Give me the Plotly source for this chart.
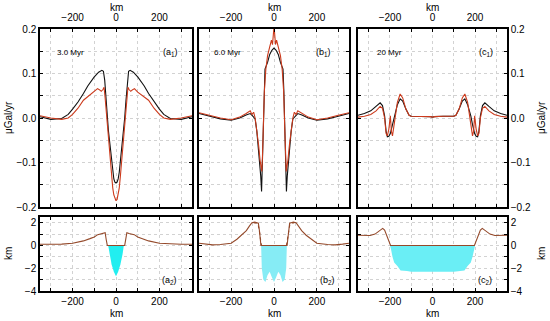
import plotly.graph_objects as go

# ---------------- data ----------------
# (a1) 3.0 Myr
xa1 = [-350, -300, -250, -220, -200, -175, -150, -130, -101, -80, -65, -58, -52, -46, -40, -35, -30, -25, -20, -15, -10, -5, 0,
       5, 10, 15, 20, 25, 30, 35, 40, 46, 52, 58, 65, 80, 101, 130, 150, 175, 200, 220, 250, 300, 350]
a1_black = [0.003, -0.003, -0.001, 0.008, 0.02, 0.036, 0.055, 0.072, 0.092, 0.103, 0.107, 0.105, 0.085, 0.04, 0.0, -0.028, -0.05, -0.075, -0.1, -0.122, -0.137, -0.144, -0.146,
            -0.144, -0.137, -0.122, -0.1, -0.075, -0.05, -0.028, 0.0, 0.04, 0.085, 0.105, 0.107, 0.103, 0.092, 0.072, 0.055, 0.036, 0.02, 0.008, -0.001, -0.003, 0.003]
xa1r = [-350, -300, -250, -220, -200, -175, -150, -125, -100, -85, -75, -68, -60, -55, -50, -45, -40, -35, -30, -25, -20, -15, -10, -5, 0,
        5, 10, 15, 20, 25, 30, 35, 40, 45, 50, 55, 60, 68, 75, 85, 100, 125, 150, 175, 200, 220, 250, 300, 350]
a1_red = [0.005, 0.0, -0.003, 0.0, 0.008, 0.022, 0.04, 0.05, 0.058, 0.066, 0.063, 0.06, 0.064, 0.069, 0.045, 0.015, -0.015, -0.045, -0.075, -0.105, -0.132, -0.157, -0.173, -0.183, -0.186,
          -0.183, -0.173, -0.157, -0.132, -0.105, -0.075, -0.045, -0.015, 0.015, 0.045, 0.069, 0.064, 0.06, 0.063, 0.066, 0.058, 0.05, 0.04, 0.022, 0.008, 0.0, -0.003, 0.0, 0.005]

# (b1) 6.0 Myr
xb1 = [-350, -300, -250, -200, -160, -130, -111, -100, -88, -80, -70, -62, -58, -54, -50, -46, -42, -30, -20, -10, 0,
       10, 20, 30, 42, 46, 50, 54, 58, 62, 70, 80, 88, 100, 111, 130, 160, 200, 250, 300, 350]
b1_black = [0.01, 0.004, -0.002, -0.005, 0.0, 0.007, 0.01, 0.005, -0.002, -0.03, -0.08, -0.13, -0.165, -0.1, -0.02, 0.06, 0.11, 0.125, 0.143, 0.152, 0.157,
            0.152, 0.143, 0.125, 0.11, 0.06, -0.02, -0.1, -0.165, -0.13, -0.08, -0.03, -0.002, 0.005, 0.01, 0.007, 0.0, -0.005, -0.002, 0.004, 0.01]
xb1r = [-350, -300, -250, -200, -160, -130, -111, -103, -95, -88, -80, -72, -65, -60, -57, -54, -50, -45, -38, -30, -20, -12, -7, -3, 0,
        3, 7, 12, 20, 30, 38, 45, 50, 54, 57, 60, 65, 72, 80, 88, 95, 103, 111, 130, 160, 200, 250, 300, 350]
b1_red = [0.012, 0.006, 0.0, -0.004, 0.002, 0.01, 0.016, 0.008, 0.013, 0.0, -0.025, -0.06, -0.095, -0.11, -0.12, -0.09, -0.02, 0.06, 0.11, 0.14, 0.16, 0.175, 0.165, 0.19, 0.205,
          0.19, 0.165, 0.175, 0.16, 0.14, 0.11, 0.06, -0.02, -0.09, -0.12, -0.11, -0.095, -0.06, -0.025, 0.0, 0.013, 0.008, 0.016, 0.01, 0.002, -0.004, 0.0, 0.006, 0.012]

# (c1) 20 Myr
xc1 = [-350, -320, -290, -265, -246, -235, -225, -218, -212, -205, -198, -193, -188, -180, -165, -152, -140, -125, -110, -100, -50, -10, 0,
       10, 50, 100, 110, 125, 140, 152, 165, 180, 188, 193, 198, 205, 212, 218, 225, 235, 246, 265, 290, 320, 350]
c1_black = [0.006, 0.01, 0.016, 0.026, 0.034, 0.028, 0.005, -0.03, -0.042, -0.041, -0.035, -0.025, -0.015, 0.005, 0.03, 0.043, 0.038, 0.02, 0.006, 0.004, 0.004, 0.003, 0.002,
            0.003, 0.004, 0.004, 0.006, 0.02, 0.038, 0.043, 0.03, 0.005, -0.015, -0.025, -0.035, -0.041, -0.042, -0.03, 0.005, 0.028, 0.034, 0.026, 0.016, 0.01, 0.006]
c1_red = [0.002, 0.004, 0.008, 0.016, 0.026, 0.022, 0.0, -0.035, -0.04, -0.025, 0.005, -0.03, -0.04, -0.01, 0.035, 0.054, 0.045, 0.02, 0.006, 0.004, 0.004, 0.003, 0.002,
          0.003, 0.004, 0.004, 0.006, 0.02, 0.045, 0.054, 0.035, -0.01, -0.04, -0.03, 0.005, -0.025, -0.04, -0.035, 0.0, 0.022, 0.026, 0.016, 0.008, 0.004, 0.002]

# (a2) topography and basin fill
xa2 = [-350, -300, -250, -200, -150, -120, -100, -84, -70, -60, -50, -45, -40, 40, 45, 50, 60, 70, 84, 100, 120, 150, 200, 250, 300, 350]
a2_topo = [0.1, 0.1, 0.12, 0.2, 0.4, 0.6, 0.75, 0.95, 1.0, 1.05, 1.12, 0.5, 0.0, 0.0, 0.5, 1.12, 1.05, 1.0, 0.95, 0.75, 0.6, 0.4, 0.2, 0.12, 0.1, 0.1]
xa2_fill = [-36, -30, -20, -10, 0, 10, 20, 30, 36, -36]
a2_fill = [0.0, -0.8, -1.7, -2.3, -2.7, -2.3, -1.7, -0.8, 0.0, 0.0]

# (b2)
xb2 = [-350, -320, -286, -250, -200, -173, -150, -129, -115, -103, -90, -80, -73, -68, -64, -61, 61, 64, 68, 73, 80, 90, 103, 115, 129, 150, 173, 200, 250, 286, 320, 350]
b2_topo = [0.2, 0.12, 0.05, 0.08, 0.2, 0.55, 0.9, 1.3, 1.7, 2.0, 2.05, 2.0, 1.95, 1.3, 0.5, 0.0, 0.0, 0.5, 1.3, 1.95, 2.0, 2.05, 2.0, 1.7, 1.3, 0.9, 0.55, 0.2, 0.08, 0.05, 0.12, 0.2]
xb2_dash_l = [-95, -82, -74, -70, -66, -62, -58]
b2_dash_l = [2.0, 1.95, 1.85, 1.5, 1.0, 0.4, 0.0]
xb2_dash_r = [58, 62, 66, 70, 74, 82, 95]
b2_dash_r = [0.0, 0.4, 1.0, 1.5, 1.85, 1.95, 2.0]
xb2_fill = [-60, -57, -50, -40, -30, -20, -10, 0, 10, 20, 30, 40, 50, 57, 60, -60]
b2_fill = [0.0, -2.0, -3.0, -3.2, -2.6, -2.3, -2.8, -3.2, -2.8, -2.3, -2.6, -3.2, -3.0, -2.0, 0.0, 0.0]

# (c2)
xc2 = [-350, -320, -293, -270, -250, -234, -225, -215, -205, -197, 197, 205, 215, 225, 234, 250, 270, 293, 320, 350]
c2_topo = [0.9, 0.87, 0.87, 1.0, 1.3, 1.5, 1.35, 0.9, 0.4, 0.0, 0.0, 0.4, 0.9, 1.35, 1.5, 1.3, 1.0, 0.87, 0.87, 0.9]
xc2_fill = [-200, -195, -188, -180, -165, -150, -120, -100, 100, 120, 150, 165, 180, 188, 195, 200, -200]
c2_fill = [0.0, -0.3, -1.0, -1.5, -1.8, -2.2, -2.25, -2.3, -2.3, -2.25, -2.2, -1.8, -1.5, -1.0, -0.3, 0.0, 0.0]

ages = ["3.0 Myr", "6.0 Myr", "20 Myr"]
top_tags = ["(a<sub>1</sub>)", "(b<sub>1</sub>)", "(c<sub>1</sub>)"]
bot_tags = ["(a<sub>2</sub>)", "(b<sub>2</sub>)", "(c<sub>2</sub>)"]

x_tickvals = [-300, -200, -100, 0, 100, 200, 300]
x_ticktext = ["", "\u2212200", "", "0", "", "200", ""]
yt_tickvals = [-0.2, -0.15, -0.1, -0.05, 0.0, 0.05, 0.1, 0.15, 0.2]
yt_ticktext = ["\u22120.2", "", "\u22120.1", "", "0.0", "", "0.1", "", "0.2"]
yb_tickvals = [-4, -3, -2, -1, 0, 1, 2]
yb_ticktext = ["\u22124", "", "\u22122", "", "0", "", "2"]

# ---------------- styling ----------------
W, H = 550, 321
BLACK = "#111111"
RED = "#cc3a1c"
BROWN = "#94492a"
FONT = "Liberation Sans, Arial, sans-serif"

px_cols = [(40, 192), (199, 349), (358, 507)]
top_rows = (29, 207)
bot_rows = (217, 291)


def xdom(c):
    return [c[0] / W, c[1] / W]


def ydom(r):
    return [1 - r[1] / H, 1 - r[0] / H]


fig = go.Figure()


def add(x, y, ax, **kw):
    fig.add_trace(go.Scatter(x=x, y=y, xaxis="x" + ("" if ax == 1 else str(ax)),
                             yaxis="y" + ("" if ax == 1 else str(ax)), mode="lines",
                             showlegend=False, hoverinfo="skip", **kw))


# top panels: axes 1,2,3 ; bottom panels: axes 4,5,6
add(xa1, a1_black, 1, line=dict(color=BLACK, width=1.1))
add(xa1r, a1_red, 1, line=dict(color=RED, width=1.1))
add(xb1, b1_black, 2, line=dict(color=BLACK, width=1.1))
add(xb1r, b1_red, 2, line=dict(color=RED, width=1.1))
add(xc1, c1_black, 3, line=dict(color=BLACK, width=1.1))
add(xc1, c1_red, 3, line=dict(color=RED, width=1.1))

add(xa2_fill, a2_fill, 4, fill="toself", fillcolor="#22eef0", line=dict(width=0))
add(xa2, a2_topo, 4, line=dict(color=BROWN, width=1.1))
add(xb2_fill, b2_fill, 5, fill="toself", fillcolor="#86ecf5", line=dict(width=0))
add(xb2, b2_topo, 5, line=dict(color=BROWN, width=1.1))
add(xb2_dash_l, b2_dash_l, 5, line=dict(color=BROWN, width=1.1, dash="dot"))
add(xb2_dash_r, b2_dash_r, 5, line=dict(color=BROWN, width=1.1, dash="dot"))
add(xc2_fill, c2_fill, 6, fill="toself", fillcolor="#6aeef5", line=dict(width=0))
add(xc2, c2_topo, 6, line=dict(color=BROWN, width=1.1))

common_axis = dict(showline=True, linecolor="black", linewidth=1.5, mirror="ticks",
                   ticks="inside", ticklen=3, tickwidth=1, tickcolor="black",
                   showgrid=True, gridcolor="#d2d2d2", gridwidth=1, griddash="dot",
                   zeroline=False, automargin=False,
                   tickfont=dict(family=FONT, size=10, color="black"))

layout = dict(width=W, height=H, margin=dict(l=0, r=0, t=0, b=0, autoexpand=False),
              paper_bgcolor="white", plot_bgcolor="white",
              font=dict(family=FONT, size=10, color="black"))

for i in range(3):
    t = i + 1
    b = i + 4
    tk = "" if t == 1 else str(t)
    layout["xaxis" + tk] = dict(common_axis, domain=xdom(px_cols[i]), range=[-350, 350],
                                tickvals=x_tickvals, ticktext=x_ticktext, side="top",
                                anchor="y" + tk, ticklabelstandoff=2)
    layout["yaxis" + tk] = dict(common_axis, domain=ydom(top_rows), range=[-0.2, 0.2],
                                tickvals=yt_tickvals, ticktext=yt_ticktext,
                                anchor="x" + tk,
                                side="right" if i == 2 else "left",
                                showticklabels=(i != 1))
    layout["xaxis" + str(b)] = dict(common_axis, domain=xdom(px_cols[i]), range=[-350, 350],
                                    tickvals=x_tickvals, ticktext=x_ticktext, side="bottom",
                                    anchor="y" + str(b))
    layout["yaxis" + str(b)] = dict(common_axis, domain=ydom(bot_rows), range=[-4, 2.5],
                                    tickvals=yb_tickvals, ticktext=yb_ticktext,
                                    anchor="x" + str(b),
                                    side="right" if i == 2 else "left",
                                    showticklabels=(i != 1))

annotations = []
tag_x = [250, 232, 249]
age_x = [-210, -215, -200]
for i in range(3):
    t = i + 1
    tk = "" if t == 1 else str(t)
    annotations.append(dict(x=age_x[i], y=0.148, xref="x" + tk, yref="y" + tk, text=ages[i],
                            showarrow=False, font=dict(family=FONT, size=8)))
    annotations.append(dict(x=tag_x[i], y=0.148, xref="x" + tk, yref="y" + tk, text=top_tags[i],
                            showarrow=False, font=dict(family=FONT, size=9)))
    annotations.append(dict(x=248, y=-3.1, xref="x" + str(t + 3), yref="y" + str(t + 3),
                            text=bot_tags[i], showarrow=False, font=dict(family=FONT, size=9)))
    cx = (px_cols[i][0] + px_cols[i][1]) / 2 / W
    annotations.append(dict(x=cx, y=1 - 7 / H, xref="paper", yref="paper", text="km",
                            xanchor="center", yanchor="middle",
                            showarrow=False, font=dict(family=FONT, size=10)))
    annotations.append(dict(x=cx, y=1 - 313 / H, xref="paper", yref="paper", text="km",
                            xanchor="center", yanchor="middle",
                            showarrow=False, font=dict(family=FONT, size=10)))

for (xx, yy, txt) in [(8, 118, "\u03bcGal/yr"), (541, 118, "\u03bcGal/yr"), (8, 254, "km"), (541, 254, "km")]:
    annotations.append(dict(x=xx / W, y=1 - yy / H, xref="paper", yref="paper", text=txt,
                            textangle=-90, xanchor="center", yanchor="middle",
                            showarrow=False, font=dict(family=FONT, size=10)))
layout["annotations"] = annotations

fig.update_layout(layout)
fig.write_html("out.html", config={"displayModeBar": False},
               post_script="document.body.style.margin='0';document.body.style.padding='0';")
